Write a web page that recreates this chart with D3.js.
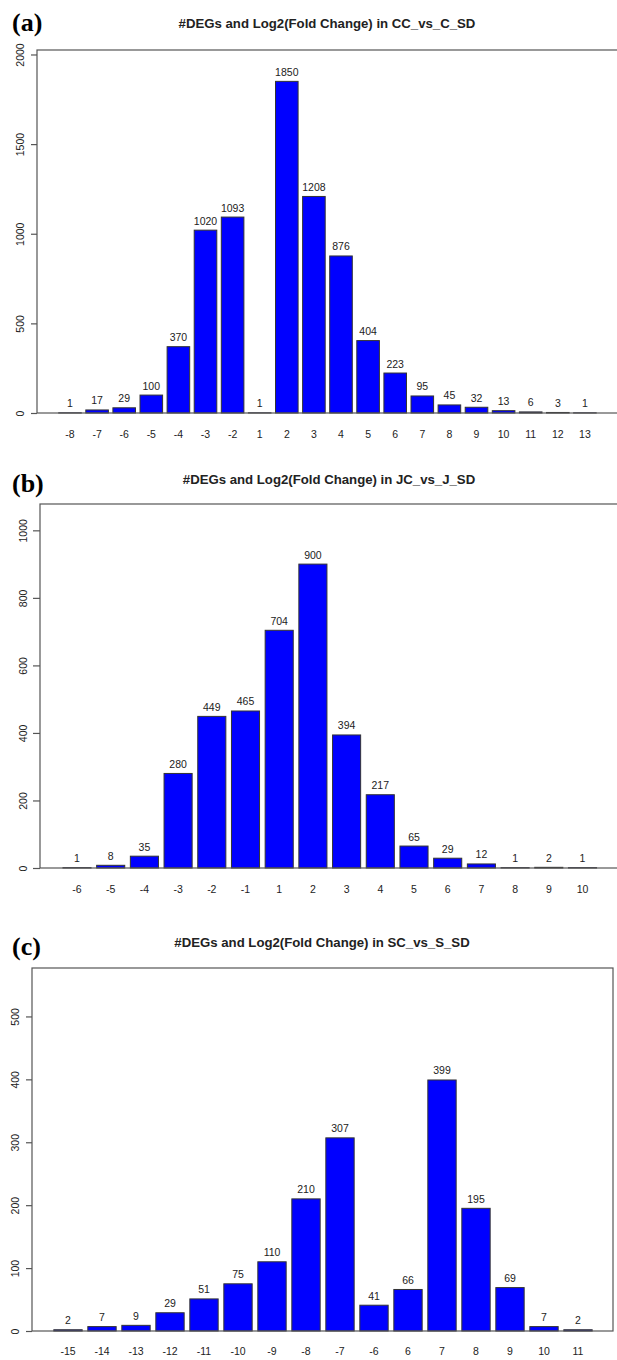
<!DOCTYPE html>
<html>
<head>
<meta charset="utf-8">
<script src="https://cdn.jsdelivr.net/npm/d3@7"></script>
<style>
  body { margin: 0; background: #fff; }
  svg text { font-family: "Liberation Sans", Arial, sans-serif; fill: #222; }
</style>
</head>
<body>
<script>
// data
var catsA = ["-8","-7","-6","-5","-4","-3","-2","1","2","3","4","5","6","7","8","9","10","11","12","13"];
var valsA = [1,17,29,100,370,1020,1093,1,1850,1208,876,404,223,95,45,32,13,6,3,1];
var ticksA = [0,500,1000,1500,2000];

var catsB = ["-6","-5","-4","-3","-2","-1","1","2","3","4","5","6","7","8","9","10"];
var valsB = [1,8,35,280,449,465,704,900,394,217,65,29,12,1,2,1];
var ticksB = [0,200,400,600,800,1000];

var catsC = ["-15","-14","-13","-12","-11","-10","-9","-8","-7","-6","6","7","8","9","10","11"];
var valsC = [2,7,9,29,51,75,110,210,307,41,66,399,195,69,7,2];
var ticksC = [0,100,200,300,400,500];

var letters = ["(a)","(b)","(c)"];
var titles = ["#DEGs and Log2(Fold Change) in CC_vs_C_SD",
              "#DEGs and Log2(Fold Change) in JC_vs_J_SD",
              "#DEGs and Log2(Fold Change) in SC_vs_S_SD"];

var svg = d3.select("body").append("svg")
  .attr("width", 617)
  .attr("height", 1360);

var axisCol = "#555";

// layout of each panel (pixels)
var panels = [
  {cats: catsA, vals: valsA, ticks: ticksA, ymax: 2025, left: 37, top: 50, right: 700, bottom: 413,
   c1: 70, step: 27.1, titleX: 327, titleY: 28, letterY: 31, xlabY: 438, tick0: 31},
  {cats: catsB, vals: valsB, ticks: ticksB, ymax: 1078, left: 40, top: 504, right: 700, bottom: 868,
   c1: 77, step: 33.7, titleX: 329, titleY: 483.5, letterY: 492, xlabY: 893, tick0: 33},
  {cats: catsC, vals: valsC, ticks: ticksC, ymax: 577, left: 32, top: 968, right: 613, bottom: 1331,
   c1: 68, step: 34.0, titleX: 322, titleY: 947, letterY: 955, xlabY: 1355, tick0: 26}
];

panels.forEach(function(p, i){
  var inner = 1/6;
  var bw = p.step*(1-inner);
  var x0 = p.c1 - bw/2;
  var x = d3.scaleBand()
    .domain(p.cats)
    .range([x0, x0 + p.step*(p.cats.length - inner)])
    .paddingInner(inner)
    .paddingOuter(0);

  var y = d3.scaleLinear()
    .domain([0, p.ymax])
    .range([p.bottom, p.top]);

  var g = svg.append("g");

  // panel letter
  g.append("text")
    .attr("x", 12)
    .attr("y", p.letterY)
    .style("font-family", "'Liberation Serif', 'Times New Roman', serif")
    .style("font-weight", "bold")
    .style("font-size", "26px")
    .style("fill", "#000")
    .text(letters[i]);

  // title
  g.append("text")
    .attr("x", p.titleX)
    .attr("y", p.titleY)
    .attr("text-anchor", "middle")
    .style("font-weight", "bold")
    .style("font-size", "13.2px")
    .text(titles[i]);

  // bars
  g.selectAll("rect.bar")
    .data(p.vals)
    .enter().append("rect")
    .attr("class", "bar")
    .attr("x", function(d, j){ return x(p.cats[j]); })
    .attr("width", x.bandwidth())
    .attr("y", function(d){ return y(d); })
    .attr("height", function(d){ return p.bottom - y(d); })
    .attr("fill", "#0000ff")
    .attr("stroke", "#333")
    .attr("stroke-width", 1);

  // value labels
  g.selectAll("text.val")
    .data(p.vals)
    .enter().append("text")
    .attr("class", "val")
    .attr("x", function(d, j){ return x(p.cats[j]) + x.bandwidth()/2; })
    .attr("y", function(d){ return y(d) - 5.5; })
    .attr("text-anchor", "middle")
    .style("font-size", "10.5px")
    .text(function(d){ return d; });

  // x category labels
  g.selectAll("text.cat")
    .data(p.cats)
    .enter().append("text")
    .attr("class", "cat")
    .attr("x", function(d){ return x(d) + x.bandwidth()/2; })
    .attr("y", p.xlabY)
    .attr("text-anchor", "middle")
    .style("font-size", "10.5px")
    .text(function(d){ return d; });

  // box
  g.append("rect")
    .attr("x", p.left)
    .attr("y", p.top)
    .attr("width", p.right - p.left)
    .attr("height", p.bottom - p.top)
    .attr("fill", "none")
    .attr("stroke", axisCol)
    .attr("stroke-width", 1.2);

  // y axis
  var ax = g.append("g")
    .attr("transform", "translate(" + p.left + ",0)")
    .call(d3.axisLeft(y).tickValues(p.ticks).tickSize(p.left - p.tick0).tickFormat(d3.format("d")));
  ax.select(".domain").remove();
  ax.selectAll(".tick line").attr("stroke", axisCol).attr("stroke-width", 1.2);
  ax.selectAll(".tick text")
    .attr("transform", "rotate(-90)")
    .attr("x", 0)
    .attr("y", -13.5)
    .attr("dy", 0)
    .attr("text-anchor", "middle")
    .style("font-family", "'Liberation Sans', Arial, sans-serif")
    .style("font-size", "10.5px")
    .attr("fill", "#222");
});
</script>
</body>
</html>
